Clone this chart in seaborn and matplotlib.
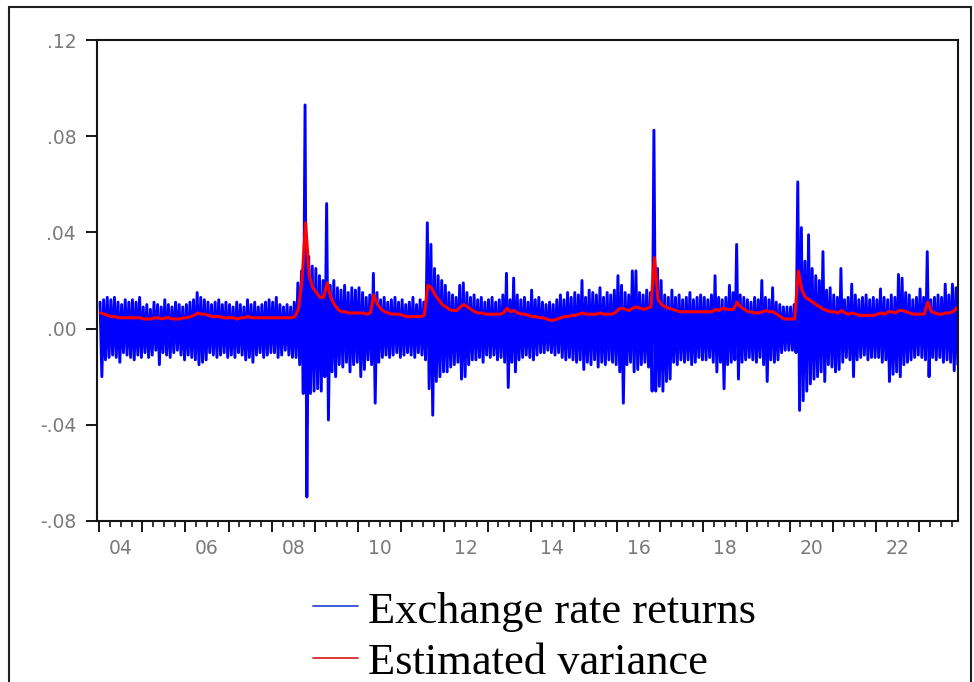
import numpy as np
import pandas as pd
import matplotlib
matplotlib.use("Agg")
import matplotlib.pyplot as plt
from matplotlib.lines import Line2D
from matplotlib.patches import Rectangle
import seaborn as sns

# Monthly extremes of the daily exchange-rate returns, Jan 2004 - Nov 2023 (units of 0.001)
ret_high = [
    11, 12, 13, 12, 13, 11, 10, 12, 11, 12, 11, 13,      # 2004
    9, 10, 8, 11, 10, 9, 12, 10, 9, 11, 10, 9,           # 2005
    10, 11, 12, 15, 13, 12, 11, 10, 11, 12, 10, 11,      # 2006
    10, 9, 11, 10, 9, 12, 10, 11, 9, 10, 11, 12,         # 2007
    11, 13, 10, 9, 10, 9, 11, 19, 24, 93, 30, 26,        # 2008
    25, 22, 20, 52, 18, 20, 17, 16, 18, 15, 17, 16,      # 2009
    17, 15, 13, 14, 23, 15, 12, 13, 11, 12, 13, 11,      # 2010
    12, 10, 11, 13, 10, 12, 11, 44, 35, 25, 22, 20,      # 2011
    18, 15, 14, 13, 18, 19, 15, 13, 14, 12, 13, 11,      # 2012
    12, 13, 11, 12, 14, 23, 12, 21, 14, 12, 13, 11,      # 2013
    16, 12, 13, 11, 10, 11, 10, 12, 14, 12, 15, 13,      # 2014
    15, 14, 20, 13, 16, 15, 14, 17, 13, 15, 14, 16,      # 2015
    22, 18, 15, 14, 24, 24, 15, 14, 16, 15, 82.5, 25,    # 2016
    20, 14, 13, 16, 13, 14, 12, 13, 15, 12, 13, 14,      # 2017
    13, 12, 14, 22, 13, 12, 13, 18, 15, 35, 14, 13,      # 2018
    12, 11, 13, 12, 20, 13, 12, 17, 11, 10, 9, 9,        # 2019
    9, 10, 61, 42, 28, 39, 25, 22, 20, 32, 16, 17,       # 2020
    14, 13, 25, 12, 13, 18.5, 14, 12, 13, 14, 12, 13,    # 2021
    12, 16.5, 13, 12, 14, 13, 22.5, 21, 15, 14, 12, 13,  # 2022
    16.5, 13, 32, 12, 13, 14, 13, 18.5, 14, 18.5, 17,    # 2023
]
ret_low = [
    -20, -13, -12, -11, -12, -14, -10, -11, -12, -13, -11, -12,
    -10, -12, -11, -9, -15, -10, -11, -12, -10, -9, -11, -13,
    -11, -12, -13, -15, -14, -13, -10, -11, -12, -11, -10, -12,
    -11, -12, -10, -11, -13, -12, -14, -11, -10, -12, -11, -10,
    -10, -12, -11, -9, -11, -12, -12, -15, -27, -70, -27, -26,
    -25, -26, -20, -38, -18, -20, -15, -16, -14, -18, -15, -14,
    -20, -17, -13, -15, -31, -14, -12, -11, -12, -11, -10, -12,
    -11, -10, -11, -12, -10, -11, -13, -25, -36, -22, -20, -18,
    -18, -16, -15, -14, -21, -20, -15, -13, -13, -12, -14, -11,
    -12, -11, -13, -12, -14, -24.5, -14, -18, -13, -12, -11, -12,
    -13, -11, -10, -10, -9, -10, -11, -10, -12, -13, -12, -13,
    -14, -13, -17, -14, -15, -13, -16, -14, -15, -13, -14, -15,
    -18, -31, -15, -14, -18, -17, -15, -14, -16, -26, -26, -24,
    -26, -22, -21, -14, -15, -13, -14, -13, -15, -14, -12, -13,
    -13, -12, -14, -18, -14, -25, -15, -14, -13, -21, -14, -13,
    -12, -13, -14, -12, -15, -22, -13, -14, -13, -10, -9, -9,
    -9, -10, -34, -30, -26, -23, -21, -20, -18, -22, -15, -16,
    -18, -17, -14, -12, -13, -20, -13, -12, -11, -13, -12, -12,
    -12, -14, -13, -22, -19, -18, -20, -15, -14, -13, -12, -11,
    -12, -13, -20, -12, -13, -12, -14, -13, -14, -17.5, -15,
]
# Estimated conditional volatility, monthly (units of 0.001)
est_variance = [
    6.5, 6, 5.5, 5, 5, 4.5, 4.5, 4.5, 4.5, 4.5, 4.5, 4.5,
    4, 4, 4, 4.5, 4.5, 4, 4.5, 4.5, 4, 4, 4, 4.5,
    4.5, 5, 5.5, 6.5, 6, 6, 5.5, 5, 5, 5, 4.5, 4.5,
    4.5, 4.5, 4, 4.5, 4.5, 5, 4.5, 4.5, 4.5, 4.5, 4.5, 4.5,
    4.5, 4.5, 4.5, 4.5, 4.5, 4.5, 5, 8, 20, 44, 22, 17,
    15, 13, 13, 19, 13, 10, 8, 7, 7, 6.5, 6.5, 6.5,
    6.5, 6.5, 6, 6.5, 14, 10, 8, 7, 6.5, 6, 6, 6,
    5.5, 5, 5, 5, 5, 5, 5.5, 18, 17, 14, 12, 10,
    9, 8, 7.5, 7.5, 9, 10, 9, 8, 7, 6.5, 6.5, 6,
    6, 6, 6, 6, 6.5, 8.5, 7, 7.5, 6.5, 6, 6, 5.5,
    5, 5, 4.5, 4.5, 4, 3.5, 3.5, 4, 4.5, 5, 5, 5.5,
    5.5, 6, 6.5, 6, 6, 6, 6, 6.5, 6, 6, 6, 6.5,
    8, 8.5, 8, 7.5, 8.5, 9, 8.5, 8, 8.5, 9, 29.5, 12,
    10, 9, 8.5, 8, 7.5, 7, 7, 7, 7, 7, 7, 7,
    7, 7, 7, 8, 7.5, 8.5, 8, 8, 8, 11, 9, 8,
    7, 7, 6.5, 6.5, 7, 7.5, 7, 7, 6, 5, 4, 4,
    4, 4, 24, 16, 13, 12, 11, 10, 9, 8, 7.5, 7,
    7, 6.5, 7.5, 6.5, 6, 6.5, 6, 5.5, 5.5, 5.5, 5.5, 5.5,
    6, 6.5, 6, 7, 7, 6.5, 7.5, 7.5, 7, 6.5, 6, 6,
    6, 6, 11, 7, 6.5, 6, 6, 6.5, 6.5, 7, 8.5,
]
first_year = 2004
y_ticks = [-0.08, -0.04, 0.0, 0.04, 0.08, 0.12]
y_tick_labels = ["-.08", "-.04", ".00", ".04", ".08", ".12"]
year_labels = ["04", "06", "08", "10", "12", "14", "16", "18", "20", "22"]
legend_labels = ["Exchange rate returns", "Estimated variance"]

# ---- build long-form tables -------------------------------------------------
months = np.arange(len(ret_high))
returns = pd.DataFrame({
    "t": np.column_stack([first_year + (months + 0.25) / 12,
                          first_year + (months + 0.75) / 12]).ravel(),
    "value": np.column_stack([ret_high, ret_low]).ravel() * 1e-3,
})
variance = pd.DataFrame({
    "t": first_year + (months + 0.4) / 12,
    "value": np.asarray(est_variance) * 1e-3,
})

sns.set_style("ticks")
W, H = 974, 682
fig = plt.figure(figsize=(W / 100, H / 100), dpi=100)
ax = fig.add_axes([97 / W, 1 - 521 / H, (958 - 97) / W, (521 - 40) / H])

sns.lineplot(data=returns, x="t", y="value", ax=ax, color="#0000ff",
             lw=2.1, estimator=None, sort=False)
sns.lineplot(data=variance, x="t", y="value", ax=ax, color="#ff0000",
             lw=2.2, estimator=None, sort=False)

ax.set_xlim(2003.95, 2023.9)
ax.set_ylim(-0.08, 0.12)
ax.set_xlabel("")
ax.set_ylabel("")

for s in ax.spines.values():
    s.set_visible(True)
    s.set_color("#151515")
    s.set_linewidth(1.5)

# y axis
ax.set_yticks(y_ticks, y_tick_labels)
ax.tick_params(axis="y", direction="out", length=8, width=1.4, color="#151515",
               labelsize=13.5, labelcolor="#7a7a7a", pad=7)

# x axis: yearly major ticks, quarterly minor ticks, labels centred in the year
years = np.arange(first_year, 2024)
ax.set_xticks(years)
ax.set_xticks([y + q / 4 for y in years for q in (1, 2, 3) if y + q / 4 < 2023.9],
              minor=True)
ax.tick_params(axis="x", which="major", direction="out", length=8, width=1.4,
               color="#151515", labelbottom=False)
ax.tick_params(axis="x", which="minor", direction="out", length=4, width=1.2,
               color="#151515", labelbottom=False)

sec = ax.secondary_xaxis("bottom")
sec.set_xticks([first_year + 0.5 + 2 * i for i in range(len(year_labels))],
               year_labels)
sec.tick_params(axis="x", length=0, pad=13, labelsize=13.5, labelcolor="#7a7a7a")
sec.spines["bottom"].set_visible(False)

# legend below the plot
fx = lambda px: px / W
fy = lambda py: 1 - py / H
for (label, color, y_line, y_base) in [
    (legend_labels[0], "#2f4fd8", 606, 623),
    (legend_labels[1], "#d42a2a", 658, 674),
]:
    fig.add_artist(Line2D([fx(313), fx(358)], [fy(y_line), fy(y_line)],
                          transform=fig.transFigure, color=color, lw=1.3))
    fig.text(fx(368), fy(y_base), label, fontsize=32, va="baseline", ha="left",
             family="Liberation Serif", color="black")

# outer frame
fig.add_artist(Rectangle((fx(9), -0.05), fx(971) - fx(9), fy(7) + 0.05,
                         transform=fig.transFigure, fill=False,
                         ec="#202020", lw=1.5))

fig.savefig("out.png", dpi=100)
